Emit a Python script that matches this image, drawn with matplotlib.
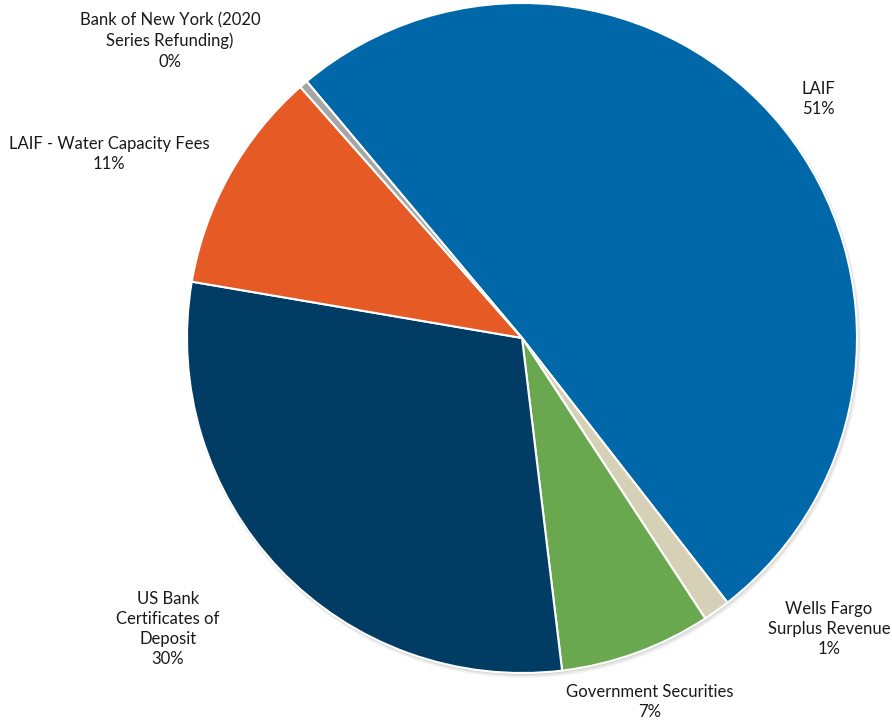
import matplotlib
matplotlib.use("Agg")
import matplotlib.pyplot as plt
from matplotlib.patches import Circle

plt.rcParams['font.family'] = ['Lato', 'DejaVu Sans']

categories = ["LAIF", "Wells Fargo\nSurplus Revenue", "Government Securities",
              "US Bank\nCertificates of\nDeposit", "LAIF - Water Capacity Fees",
              "Bank of New York (2020\nSeries Refunding)"]
values = [50.6, 1.3, 7.3, 29.6, 10.8, 0.4]
colors = ["#0068A9", "#D6D0B6", "#6AA84F", "#003C63", "#E55A25", "#A5A5A5"]

# label positions in pixels (layout only)
label_px = [(818, 99), (829, 629), (650, 702), (168, 629), (109, 154), (170, 41)]

W, H = 892, 721
cx, cy, R = 522, 338, 335

fig = plt.figure(figsize=(W / 100, H / 100), dpi=100)
ax = fig.add_axes([0, 0, 1, 1])
ax.axis('off')

# soft shadow
for i, a in enumerate([0.05, 0.06, 0.08]):
    off = (3 - i) / R
    ax.add_patch(Circle((off * 0.6, -off), 1 + (3 - i) * 0.6 / R, color='black',
                        alpha=a, lw=0, zorder=0))

total = sum(values)
ax.pie(values, colors=colors, startangle=130, counterclock=False, radius=1,
       wedgeprops=dict(edgecolor='white', linewidth=1.5), center=(0, 0))
ax.set_xlim(-cx / R, (W - cx) / R)
ax.set_ylim(-(H - cy) / R, cy / R)
ax.set_aspect('auto')

for cat, v, (px, py) in zip(categories, values, label_px):
    pct = round(v / total * 100)
    ax.text((px - cx) / R, (cy - py) / R, f"{cat}\n{pct}%", ha='center', va='center',
            fontsize=12, color='#1a1a1a', linespacing=1.32)

fig.savefig("out.png", dpi=100)
